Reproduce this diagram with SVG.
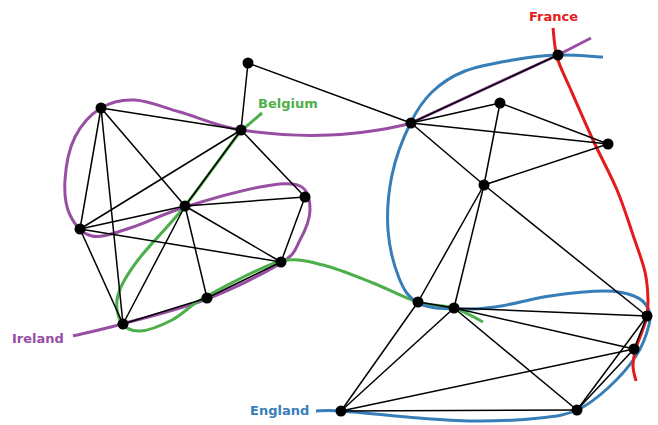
<svg xmlns="http://www.w3.org/2000/svg" width="658" height="425" viewBox="0 0 658 425">
<style>
.cur{fill:none;stroke-width:3;stroke-linecap:butt;stroke-linejoin:round}
.edges line{stroke:#000;stroke-width:1.5}
.node circle{fill:#000}
.lbl{font-family:"DejaVu Sans","Liberation Sans",sans-serif;font-weight:bold;font-size:13px}
</style>
<rect width="658" height="425" fill="#fff"/>
<g id="regions">
<path id="ireland" class="cur" stroke="#984ea3" d="M73,336 C81.2,334 99.7,330.2 122,324 C144.3,317.8 180.5,309.2 207,299 C233.5,288.8 265.5,272.8 281,263 C296.5,253.2 295.2,248.8 300,240 C304.8,231.2 310,219 310,210 C310,201 308.3,189.8 300,186 C291.7,182.2 279.2,183.5 260,187 C240.8,190.5 206.7,200.2 185,207 C163.3,213.8 145.5,223.2 130,228 C114.5,232.8 102,238.2 92,236 C82,233.8 74.5,224.3 70,215 C65.5,205.7 64.2,193 65,180 C65.8,167 69,149 75,137 C81,125 91,114.2 101,108 C111,101.8 121.8,99.3 135,100 C148.2,100.7 162.3,107 180,112 C197.7,117 216,126.2 241,130 C266,133.8 301.7,136.2 330,135 C358,134 395,128 411,123 L558,55 L591,38"/>
<path id="belgium" class="cur" stroke="#4daf4a" d="M262,113 L241,131 C228.2,146.5 202.2,184.5 185,206 C167.8,227.5 149.2,245.2 138,260 C126.8,274.8 120.8,284.7 118,295 C115.2,305.3 117.3,316 121,322 C124.7,328 131.5,331.3 140,331 C148.5,330.7 160.8,325.8 172,320 C183.2,314.2 188.8,305.8 207,296 C225.2,286.2 261.7,266.2 281,261 C300,258 307.7,261.3 323,265 C338.3,268.7 357.2,276.8 373,283 C388.8,289.2 404.5,297.8 418,302 C431.5,306.2 443.2,304.7 454,308 C464.8,311.3 478.2,319.7 483,322"/>
<path id="england" class="cur" stroke="#377eb8" d="M316,411 C320.2,411 325.8,410 341,411 C356.2,412 385,415.3 407,417 C429,418.7 450.8,420.8 473,421 C495.2,421.2 522.7,419.8 540,418 C557.3,416.2 565.7,415 577,410 C588.3,405 598.2,397 608,388 C617.8,379 629.2,366.5 636,356 C642.8,345.5 647,333 649,325 C651,317 650.5,312.8 648,308 C645.5,303.2 641.2,298.8 634,296 C626.8,293.2 619,291 605,291 C591,291 568.3,293.3 550,296 C531.7,298.7 511,304.8 495,307 C479,309.2 466.8,309.7 454,309 C441.2,308.3 427.2,308.2 418,303 C408.8,297.8 404,290.5 399,278 C394,265.5 389.2,247.2 388,230 C386.8,212.8 388.3,192.7 392,175 C395.7,157.3 403.3,137.8 410,124 C416.7,110.2 422.8,100.8 432,92 C441.2,83.2 451.5,76.3 465,71 C478.5,65.7 497.5,62.7 513,60 C528.5,57.3 543,55.5 558,55 C573,54.5 595.5,56.7 603,57"/>
<path id="france" class="cur" stroke="#e41a1c" d="M553,28 C553.7,32.8 554.2,47 557,57 C559.8,67 564,74.2 570,88 C576,101.8 585.2,123 593,140 C600.8,157 610.3,174.2 617,190 C623.7,205.8 628.3,221.3 633,235 C637.7,248.7 642.5,261.2 645,272 C647.5,282.8 647.8,292 648,300 C648.2,308 648,312 646,320 C644,328 638.2,340.3 636,348 C633.8,355.7 633,360.5 633,366 C633,371.5 635.5,378.5 636,381"/>
</g>
<g id="connectors" class="edges">
<line x1="248" y1="63" x2="241" y2="130"/>
<line x1="248" y1="63" x2="411" y2="123"/>
<line x1="101" y1="108" x2="241" y2="130"/>
<line x1="101" y1="108" x2="80" y2="229"/>
<line x1="101" y1="108" x2="123" y2="324"/>
<line x1="101" y1="108" x2="185" y2="206"/>
<line x1="241" y1="130" x2="80" y2="229"/>
<line x1="241" y1="130" x2="185" y2="206"/>
<line x1="241" y1="130" x2="305" y2="197"/>
<line x1="80" y1="229" x2="185" y2="206"/>
<line x1="80" y1="229" x2="281" y2="262"/>
<line x1="80" y1="229" x2="123" y2="324"/>
<line x1="185" y1="206" x2="305" y2="197"/>
<line x1="185" y1="206" x2="281" y2="262"/>
<line x1="185" y1="206" x2="207" y2="298"/>
<line x1="185" y1="206" x2="123" y2="324"/>
<line x1="123" y1="324" x2="207" y2="298"/>
<line x1="207" y1="298" x2="281" y2="262"/>
<line x1="305" y1="197" x2="281" y2="262"/>
<line x1="411" y1="123" x2="558" y2="55"/>
<line x1="411" y1="123" x2="500" y2="103"/>
<line x1="411" y1="123" x2="608" y2="144"/>
<line x1="411" y1="123" x2="484" y2="185"/>
<line x1="500" y1="103" x2="608" y2="144"/>
<line x1="500" y1="103" x2="484" y2="185"/>
<line x1="608" y1="144" x2="484" y2="185"/>
<line x1="484" y1="185" x2="418" y2="302"/>
<line x1="484" y1="185" x2="454" y2="308"/>
<line x1="484" y1="185" x2="647" y2="316"/>
<line x1="418" y1="302" x2="454" y2="308"/>
<line x1="418" y1="302" x2="341" y2="411"/>
<line x1="454" y1="308" x2="341" y2="411"/>
<line x1="454" y1="308" x2="647" y2="316"/>
<line x1="454" y1="308" x2="634" y2="349"/>
<line x1="454" y1="308" x2="577" y2="410"/>
<line x1="341" y1="411" x2="634" y2="349"/>
<line x1="341" y1="411" x2="577" y2="410"/>
<line x1="577" y1="410" x2="647" y2="316"/>
<line x1="577" y1="410" x2="634" y2="349"/>
<line x1="647" y1="316" x2="634" y2="349"/>
</g>
<g id="nA" class="node"><circle cx="248" cy="63" r="5.5"/></g>
<g id="nB" class="node"><circle cx="101" cy="108" r="5.5"/></g>
<g id="nC" class="node"><circle cx="241" cy="130" r="5.5"/></g>
<g id="nD" class="node"><circle cx="411" cy="123" r="5.5"/></g>
<g id="nE" class="node"><circle cx="500" cy="103" r="5.5"/></g>
<g id="nF" class="node"><circle cx="558" cy="55" r="5.5"/></g>
<g id="nG" class="node"><circle cx="608" cy="144" r="5.5"/></g>
<g id="nH" class="node"><circle cx="484" cy="185" r="5.5"/></g>
<g id="nI" class="node"><circle cx="185" cy="206" r="5.5"/></g>
<g id="nJ" class="node"><circle cx="305" cy="197" r="5.5"/></g>
<g id="nK" class="node"><circle cx="80" cy="229" r="5.5"/></g>
<g id="nL" class="node"><circle cx="281" cy="262" r="5.5"/></g>
<g id="nM" class="node"><circle cx="207" cy="298" r="5.5"/></g>
<g id="nN" class="node"><circle cx="123" cy="324" r="5.5"/></g>
<g id="nO" class="node"><circle cx="418" cy="302" r="5.5"/></g>
<g id="nP" class="node"><circle cx="454" cy="308" r="5.5"/></g>
<g id="nQ" class="node"><circle cx="647" cy="316" r="5.5"/></g>
<g id="nR" class="node"><circle cx="634" cy="349" r="5.5"/></g>
<g id="nS" class="node"><circle cx="341" cy="411" r="5.5"/></g>
<g id="nT" class="node"><circle cx="577" cy="410" r="5.5"/></g>
<g id="labels" class="lbl">
<text x="529" y="20.5" fill="#e41a1c">France</text>
<text x="258" y="108" fill="#4daf4a">Belgium</text>
<text x="12" y="342.5" fill="#984ea3">Ireland</text>
<text x="250" y="415" fill="#377eb8">England</text>
</g>
</svg>
